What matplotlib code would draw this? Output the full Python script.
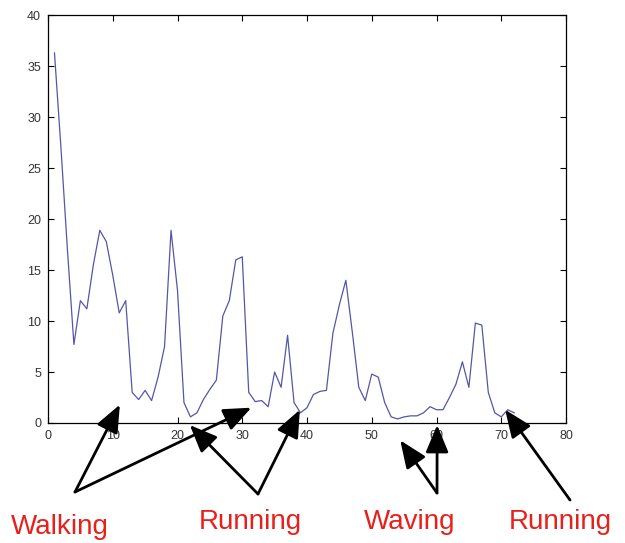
import matplotlib
matplotlib.use("Agg")
import matplotlib.pyplot as plt

plt.rcParams['font.family'] = ['Liberation Sans', 'DejaVu Sans']

# frame index and measured value
frames = list(range(1, 73))
values = [36.3, 27.0, 17.0, 7.7, 12.0, 11.2, 15.5, 18.9, 17.8, 14.5,
          10.8, 12.0, 3.0, 2.3, 3.2, 2.2, 4.5, 7.5, 18.9, 13.0,
          2.0, 0.6, 1.0, 2.3, 3.3, 4.2, 10.5, 12.0, 16.0, 16.3,
          3.0, 2.1, 2.2, 1.6, 5.0, 3.5, 8.6, 2.0, 1.0, 1.5,
          2.8, 3.1, 3.2, 8.8, 11.6, 14.0, 8.9, 3.5, 2.2, 4.8,
          4.5, 2.0, 0.6, 0.4, 0.6, 0.7, 0.7, 1.0, 1.6, 1.3,
          1.3, 2.5, 3.8, 6.0, 3.5, 9.8, 9.6, 3.0, 1.0, 0.6,
          1.3, 1.0]

# activity labels: text, label centre (figure px), arrow tail (figure px), arrow tips (data)
labels = ['Walking', 'Running', 'Waving', 'Running']
label_pos = [(60, 16), (250, 21), (410, 21), (560, 21)]
arrow_tail = [(75, 51), (258, 49), (437, 50), (570, 43)]
arrow_tips = [[(11.1, 1.8), (31.4, 1.5)],
              [(21.9, -0.2), (38.9, 1.3)],
              [(54.4, -1.7), (60.1, -0.2)],
              [(70.6, 1.3)]]

fig = plt.figure(figsize=(6.25, 5.43), dpi=100)
ax = fig.add_axes([0.0768, 0.221, 0.8288, 0.751])
ax.plot(frames, values, color='#5555aa', lw=0.9)

ax.set_xlim(0, 80)
ax.set_ylim(0, 40)
ax.set_xticks(range(0, 81, 10))
ax.set_yticks(range(0, 41, 5))
ax.tick_params(direction='in', top=True, right=True, labelsize=9,
               labelcolor='#333333', length=4, pad=5)
for s in ax.spines.values():
    s.set_linewidth(0.9)

for name, lp, tail, tips in zip(labels, label_pos, arrow_tail, arrow_tips):
    fig.text(lp[0] / 625, lp[1] / 543, name, color='#e8201c', fontsize=20,
             ha='center', va='center')
    for tip in tips:
        ax.annotate('', xy=tip, xycoords='data',
                    xytext=tail, textcoords='figure pixels',
                    annotation_clip=False,
                    arrowprops=dict(arrowstyle='-|>,head_length=1.2,head_width=0.5',
                                    color='black', lw=2, mutation_scale=14,
                                    shrinkA=0, shrinkB=0))

fig.savefig('out.png', dpi=100)
